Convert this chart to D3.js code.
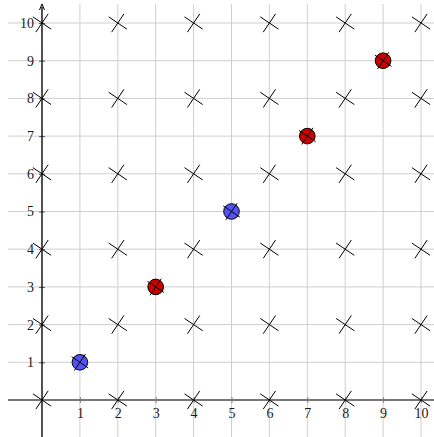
<!DOCTYPE html>
<meta charset="utf-8">
<script src="https://d3js.org/d3.v7.min.js"></script>
<style>
  body { margin: 0; background: #fff; }
</style>
<div id="chart"></div>
<script>
// grid and tick values
var gridValues = [0, 1, 2, 3, 4, 5, 6, 7, 8, 9, 10];
var tickValues = [1, 2, 3, 4, 5, 6, 7, 8, 9, 10];

// cross marks on the even lattice
var crossXs = [0, 2, 4, 6, 8, 10];
var crossYs = [0, 2, 4, 6, 8, 10];

// filled circle marks on the diagonal
var dotXs = [1, 3, 5, 7, 9];
var dotYs = [1, 3, 5, 7, 9];
var dotColors = ["#5353f5", "#cc0000", "#5353f5", "#cc0000", "#cc0000"];

var W = 434, H = 437;

var svg = d3.select("#chart")
  .append("svg")
  .attr("width", W)
  .attr("height", H);

var x = d3.scaleLinear().domain([0, 10]).range([42, 421]);
var y = d3.scaleLinear().domain([0, 10]).range([400, 23]);

// grid
svg.append("g").selectAll("line.v")
  .data(gridValues)
  .join("line")
  .attr("x1", d => x(d)).attr("x2", d => x(d))
  .attr("y1", 4).attr("y2", H)
  .attr("stroke", "#cfcfcf").attr("stroke-width", 1);

svg.append("g").selectAll("line.h")
  .data(gridValues)
  .join("line")
  .attr("y1", d => y(d)).attr("y2", d => y(d))
  .attr("x1", 8).attr("x2", W)
  .attr("stroke", "#cfcfcf").attr("stroke-width", 1);

// x axis
var xAxis = svg.append("g")
  .attr("transform", `translate(0, ${y(0)})`)
  .call(d3.axisBottom(x).tickValues(tickValues).tickSize(3).tickPadding(5).tickFormat(d3.format("d")));
xAxis.select(".domain").remove();
xAxis.selectAll(".tick line").attr("y1", -3).attr("stroke", "#888");
svg.append("line")
  .attr("x1", 8).attr("x2", W)
  .attr("y1", y(0)).attr("y2", y(0))
  .attr("stroke", "#777").attr("stroke-width", 1.8);

// y axis
var yAxis = svg.append("g")
  .attr("transform", `translate(${x(0)}, 0)`)
  .call(d3.axisLeft(y).tickValues(tickValues).tickSize(3).tickPadding(5).tickFormat(d3.format("d")));
yAxis.select(".domain").remove();
yAxis.selectAll(".tick line").attr("x1", 3).attr("stroke", "#555");
svg.append("line")
  .attr("x1", x(0)).attr("x2", x(0))
  .attr("y1", H).attr("y2", 7)
  .attr("stroke", "#000").attr("stroke-width", 1.3);
svg.append("path")
  .attr("d", `M${x(0) - 2.5},${10} L${x(0)},${4} L${x(0) + 2.5},${10}`)
  .attr("fill", "none").attr("stroke", "#000").attr("stroke-width", 1);

[xAxis, yAxis].forEach(function (g) {
  g.attr("font-family", "'Liberation Serif', 'DejaVu Serif', serif")
    .attr("font-size", 14);
  g.selectAll(".tick text").attr("fill", "#1a1a1a");
});

// cross mark helper
var a1 = 34 * Math.PI / 180, a2 = 124 * Math.PI / 180;
function cross(g, cx, cy, len) {
  [a1, a2].forEach(function (a) {
    g.append("line")
      .attr("x1", cx - len * Math.cos(a)).attr("y1", cy - len * Math.sin(a))
      .attr("x2", cx + len * Math.cos(a)).attr("y2", cy + len * Math.sin(a))
      .attr("stroke", "#000").attr("stroke-width", 1);
  });
}

var lattice = [];
crossXs.forEach(function (cx) {
  crossYs.forEach(function (cy) { lattice.push([cx, cy]); });
});

var crosses = svg.append("g");
lattice.forEach(function (p) { cross(crosses, x(p[0]), y(p[1]), 11); });

// dots
var dots = svg.append("g");
dotXs.forEach(function (dx, i) {
  dots.append("circle")
    .attr("cx", x(dx)).attr("cy", y(dotYs[i]))
    .attr("r", 7.8)
    .attr("fill", dotColors[i])
    .attr("stroke", "#000").attr("stroke-width", 1);
  cross(dots, x(dx), y(dotYs[i]), 10);
});
</script>
